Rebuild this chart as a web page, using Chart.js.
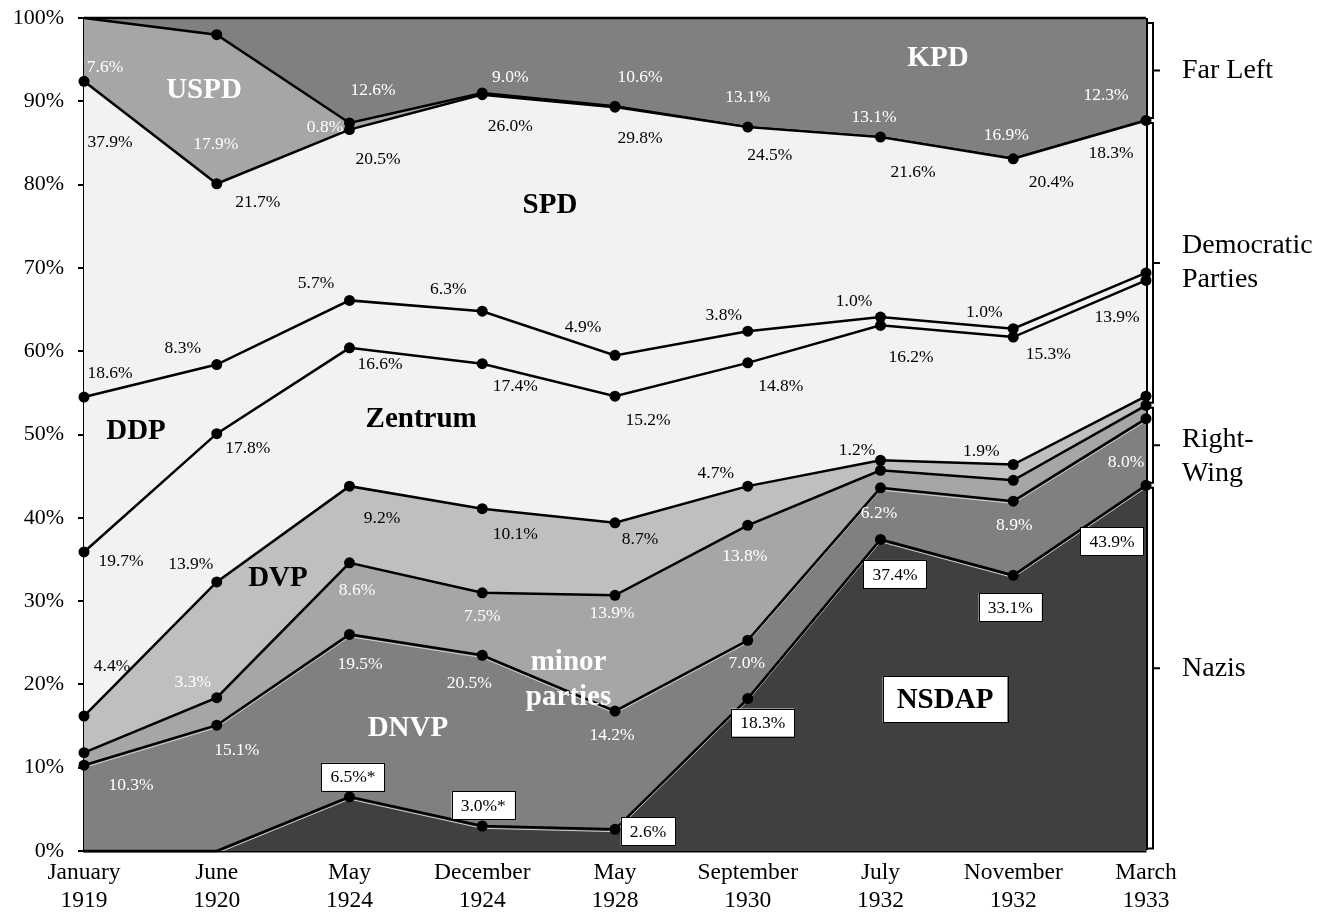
<!DOCTYPE html>
<html>
<head>
<meta charset="utf-8">
<script src="https://cdn.jsdelivr.net/npm/chart.js@4.4.1/dist/chart.umd.min.js"></script>
<style>
html,body{margin:0;padding:0;background:#fff;}
canvas{display:block;}
</style>
</head>
<body>
<canvas id="c" width="1336" height="912" style="width:1336px;height:912px"></canvas>
<script>
// ---------- data ----------
const elections = [['January','1919'],['June','1920'],['May','1924'],['December','1924'],['May','1928'],['September','1930'],['July','1932'],['November','1932'],['March','1933']];
const yTickLabels = ['0%','10%','20%','30%','40%','50%','60%','70%','80%','90%','100%'];

const nsdap   = [0, 0, 6.5, 3.0, 2.6, 18.3, 37.4, 33.1, 43.9];
const dnvp    = [10.3, 15.1, 19.5, 20.5, 14.2, 7.0, 6.2, 8.9, 8.0];
const minor   = [1.5, 3.3, 8.6, 7.5, 13.9, 13.8, 2.1, 2.5, 1.6];
const dvp     = [4.4, 13.9, 9.2, 10.1, 8.7, 4.7, 1.2, 1.9, 1.1];
const zentrum = [19.7, 17.8, 16.6, 17.4, 15.2, 14.8, 16.2, 15.3, 13.9];
const ddp     = [18.6, 8.3, 5.7, 6.3, 4.9, 3.8, 1.0, 1.0, 0.9];
const spd     = [37.9, 21.7, 20.5, 26.0, 29.8, 24.5, 21.6, 20.4, 18.3];
const uspd    = [7.6, 17.9, 0.8, 0.2, 0.1, 0, 0, 0, 0];
const kpd     = [0, 2.0, 12.6, 9.0, 10.6, 13.1, 14.3, 16.9, 12.3];

// value label texts as printed on the chart
const nsdapLabels   = [null, null, '6.5%*', '3.0%*', '2.6%', '18.3%', '37.4%', '33.1%', '43.9%'];
const dnvpLabels    = ['10.3%', '15.1%', '19.5%', '20.5%', '14.2%', '7.0%', '6.2%', '8.9%', '8.0%'];
const minorLabels   = [null, '3.3%', '8.6%', '7.5%', '13.9%', '13.8%', null, null, null];
const dvpLabels     = ['4.4%', '13.9%', '9.2%', '10.1%', '8.7%', '4.7%', '1.2%', '1.9%', null];
const zentrumLabels = ['19.7%', '17.8%', '16.6%', '17.4%', '15.2%', '14.8%', '16.2%', '15.3%', '13.9%'];
const ddpLabels     = ['18.6%', '8.3%', '5.7%', '6.3%', '4.9%', '3.8%', '1.0%', '1.0%', null];
const spdLabels     = ['37.9%', '21.7%', '20.5%', '26.0%', '29.8%', '24.5%', '21.6%', '20.4%', '18.3%'];
const uspdLabels    = ['7.6%', '17.9%', '0.8%', null, null, null, null, null, null];
const kpdLabels     = [null, null, '12.6%', '9.0%', '10.6%', '13.1%', '13.1%', '16.9%', '12.3%'];

// ---------- styling / label placement (pixel offsets from the band's top point) ----------
const FAMILY = '"Liberation Serif", "Times New Roman", serif';
const Z = [0,0];
const nsdapOff   = [Z, Z, [3.5,-20], [1,-21], [33,2], [15,24], [14.5,34.5], [-3,32], [-34,56]];
const dnvpOff    = [[47,20], [20,25], [10.5,30], [-13,28], [-3,24], [-1,23], [-1.5,26], [1,24], [-20,44]];
const minorOff   = [Z, [-24,-15], [7.5,28], [0,24], [-3,18], [-3,31], Z, Z, Z];
const dvpOff     = [[28,-50], [-26,-18], [32.5,32], [33,26], [25,17], [-32,-13], [-23.5,-10], [-32,-13.5], Z];
const zentrumOff = [[37,9], [31,15], [30.5,17], [33,23], [33,24], [33,24], [30.5,32], [35,17], [-29,37]];
const ddpOff     = [[26,-24], [-34,-16.5], [-33.5,-17], [-34,-22], [-32,-28], [-24,-16], [-26.5,-16], [-29,-16], Z];
const spdOff     = [[26,61], [41,19], [28.5,30], [28,32], [25,31], [22,28], [32.5,35], [38,24], [-35,32.5]];
const uspdOff    = [[21,49], [-1,110], [-24.5,4], Z, Z, Z, Z, Z, Z];
const kpdOff     = [Z, Z, [23.5,72], [28,59], [25,59], [0,79], [-6.5,99], [-7,117], [-40,77]];

const series = [
  {name:'NSDAP',   values:nsdap,   labels:nsdapLabels,   off:nsdapOff,   fill:'#404040', text:'#000', boxed:true, highlight:true},
  {name:'DNVP',    values:dnvp,    labels:dnvpLabels,    off:dnvpOff,    fill:'#808080', text:'#fff', highlight:true},
  {name:'minor parties', values:minor, labels:minorLabels, off:minorOff, fill:'#a6a6a6', text:'#fff'},
  {name:'DVP',     values:dvp,     labels:dvpLabels,     off:dvpOff,     fill:'#bfbfbf', text:'#000'},
  {name:'Zentrum', values:zentrum, labels:zentrumLabels, off:zentrumOff, fill:'#f2f2f2', text:'#000'},
  {name:'DDP',     values:ddp,     labels:ddpLabels,     off:ddpOff,     fill:'#f2f2f2', text:'#000'},
  {name:'SPD',     values:spd,     labels:spdLabels,     off:spdOff,     fill:'#f2f2f2', text:'#000'},
  {name:'USPD',    values:uspd,    labels:uspdLabels,    off:uspdOff,    fill:'#a6a6a6', text:'#fff'},
  {name:'KPD',     values:kpd,     labels:kpdLabels,     off:kpdOff,     fill:'#808080', text:'#fff'}
];

// band names placed in data space (x = election index, v = percent)
const bandNames = [
  {lines:['USPD'], xi:0.904, v:91.4, color:'#fff'},
  {lines:['KPD'], xi:6.433, v:95.3, color:'#fff'},
  {lines:['SPD'], xi:3.51, v:77.6, color:'#000'},
  {lines:['DDP'], xi:0.392, v:50.5, color:'#000'},
  {lines:['Zentrum'], xi:2.54, v:51.9, color:'#000'},
  {lines:['DVP'], xi:1.461, v:32.8, color:'#000'},
  {lines:['minor','parties'], xi:3.65, v:20.7, color:'#fff'},
  {lines:['DNVP'], xi:2.44, v:14.8, color:'#fff'},
  {lines:['NSDAP'], xi:6.486, v:18.2, color:'#000', box:true}
];

// groups on the right (by series index range)
const groups = [
  {lines:['Far Left'], from:7, to:8, dy:0},
  {lines:['Democratic','Parties'], from:3, to:6, dy:0},
  {lines:['Right-','Wing'], from:1, to:2, dy:11},
  {lines:['Nazis'], from:0, to:0, dy:0}
];

// cumulative tops
const cum = [];
(function(){
  let run = elections.map(() => 0);
  series.forEach(s => { run = run.map((r,i) => r + s.values[i]); cum.push(run.slice()); });
})();
const last = elections.length - 1;

const overlay = {
  id: 'overlay',
  beforeDatasetDraw(chart, args) {
    const k = args.index;
    if (!series[k] || !series[k].highlight) return;
    const {ctx, chartArea} = chart;
    const pts = chart.getDatasetMeta(k).data;
    ctx.save();
    ctx.beginPath();
    ctx.rect(chartArea.left, chartArea.top, chartArea.right - chartArea.left, chartArea.bottom - chartArea.top);
    ctx.clip();
    ctx.strokeStyle = '#cfcfcf';
    ctx.lineWidth = 1;
    ctx.beginPath();
    pts.forEach((p, i) => { if (i === 0) ctx.moveTo(p.x, p.y + 2.3); else ctx.lineTo(p.x, p.y + 2.3); });
    ctx.stroke();
    ctx.restore();
  },
  afterDatasetsDraw(chart) {
    const {ctx, scales:{x, y}} = chart;
    ctx.save();
    ctx.font = '17.5px ' + FAMILY;
    ctx.textAlign = 'center';
    ctx.textBaseline = 'middle';
    series.forEach((s, k) => {
      if (s.boxed) return;
      ctx.fillStyle = s.text;
      s.labels.forEach((t, i) => {
        if (!t) return;
        const o = s.off[i];
        ctx.fillText(t, x.getPixelForValue(i) + o[0], y.getPixelForValue(cum[k][i]) + o[1]);
      });
    });
    ctx.restore();
  },
  afterDraw(chart) {
    const {ctx, scales:{x, y}, chartArea} = chart;
    ctx.save();
    ctx.textAlign = 'center';
    ctx.textBaseline = 'middle';
    // boxed NSDAP values
    ctx.font = '17.5px ' + FAMILY;
    series.forEach((s, k) => {
      if (!s.boxed) return;
      s.labels.forEach((t, i) => {
        if (!t) return;
        const o = s.off[i];
        const cx = x.getPixelForValue(i) + o[0];
        const cy = y.getPixelForValue(cum[k][i]) + o[1];
        const w = ctx.measureText(t).width + 18, h = 28;
        ctx.fillStyle = '#fff';
        ctx.fillRect(cx - w/2, cy - h/2, w, h);
        ctx.strokeStyle = '#000'; ctx.lineWidth = 1;
        ctx.strokeRect(Math.round(cx - w/2) + 0.5, Math.round(cy - h/2) + 0.5, Math.round(w), h);
        ctx.fillStyle = '#000';
        ctx.fillText(t, cx, cy + 1);
      });
    });
    // band names
    ctx.font = 'bold 29px ' + FAMILY;
    const px = xi => chartArea.left + xi * (chartArea.right - chartArea.left) / last;
    bandNames.forEach(b => {
      const cx = px(b.xi), cy = y.getPixelForValue(b.v);
      const lh = 35;
      if (b.box) {
        const w = ctx.measureText(b.lines[0]).width + 28, h = 46;
        ctx.fillStyle = '#fff';
        ctx.fillRect(cx - w/2, cy - h/2, w, h);
        ctx.strokeStyle = '#000'; ctx.lineWidth = 1;
        ctx.strokeRect(Math.round(cx - w/2) + 0.5, Math.round(cy - h/2) + 0.5, Math.round(w), h);
      }
      ctx.fillStyle = b.color;
      b.lines.forEach((l, j) => {
        ctx.fillText(l, cx, cy + (j - (b.lines.length - 1) / 2) * lh + 1);
      });
    });
    // right brackets
    const xb = chartArea.right + 7;
    ctx.strokeStyle = '#000';
    ctx.lineWidth = 2;
    ctx.font = '28px ' + FAMILY;
    ctx.textAlign = 'left';
    ctx.fillStyle = '#000';
    groups.forEach(g => {
      const hiV = cum[g.to][last];
      const loV = g.from === 0 ? 0 : cum[g.from - 1][last];
      const top = y.getPixelForValue(hiV) + (g.to === series.length - 1 ? 5 : 2.5);
      const bot = y.getPixelForValue(loV) - 2.5;
      const mid = (top + bot) / 2;
      ctx.beginPath();
      ctx.moveTo(xb - 5, top); ctx.lineTo(xb, top); ctx.lineTo(xb, bot); ctx.lineTo(xb - 5, bot);
      ctx.moveTo(xb, mid); ctx.lineTo(xb + 7, mid);
      ctx.stroke();
      g.lines.forEach((l, j) => {
        ctx.fillText(l, xb + 29, mid + g.dy + (j - (g.lines.length - 1) / 2) * 34);
      });
    });
    ctx.restore();
  }
};

new Chart(document.getElementById('c'), {
  type: 'line',
  data: {
    labels: elections,
    datasets: series.map((s, k) => ({
      label: s.name,
      data: s.values,
      fill: k === 0 ? 'origin' : '-1',
      backgroundColor: s.fill,
      borderColor: '#000',
      borderWidth: 2.5,
      tension: 0,
      clip: false,
      pointBackgroundColor: '#000',
      pointBorderColor: '#000',
      pointBorderWidth: 0,
      pointRadius: ctx => {
        const i = ctx.dataIndex;
        return (s.values[i] === 0 || cum[k][i] > 99.95) ? 0 : 5.5;
      },
      pointHoverRadius: 0
    }))
  },
  options: {
    responsive: false,
    animation: false,
    devicePixelRatio: 1,
    layout: { padding: { top: 18, right: 190, left: 0, bottom: 0 } },
    plugins: { legend: { display: false }, tooltip: { enabled: false } },
    events: [],
    scales: {
      x: {
        type: 'category',
        offset: false,
        z: 1,
        grid: {
          color: '#000',
          lineWidth: c => (c.index === last ? 3 : 1.5),
          drawTicks: false,
          drawOnChartArea: true
        },
        border: { color: '#000', width: 2.5 },
        ticks: { color: '#000', font: { family: FAMILY, size: 23.5, lineHeight: 1.22 }, padding: 7, maxRotation: 0, autoSkip: false },
        afterFit: s => { s.height = 61; }
      },
      y: {
        stacked: true,
        min: 0,
        max: 100,
        z: 1,
        ticks: {
          stepSize: 10,
          color: '#000',
          font: { family: FAMILY, size: 22 },
          padding: 14,
          callback: (v, i) => yTickLabels[i]
        },
        grid: { drawOnChartArea: false, drawTicks: true, tickLength: 6, color: '#000', lineWidth: 2 },
        border: { color: '#000', width: 2.5 },
        afterFit: s => { s.width = 84; s.paddingTop = 0; s.paddingBottom = 0; }
      }
    }
  },
  plugins: [overlay]
});
</script>
</body>
</html>
